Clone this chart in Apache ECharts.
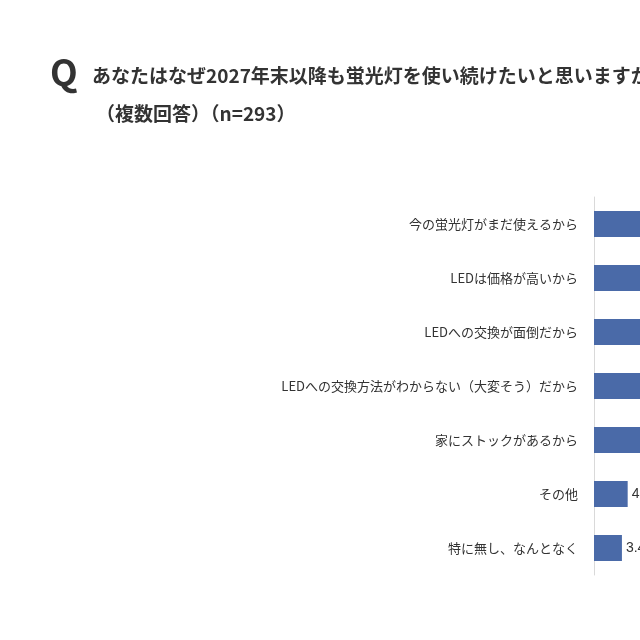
<!DOCTYPE html>
<html>
<head>
<meta charset="utf-8">
<script src="https://cdn.jsdelivr.net/npm/echarts@6/dist/echarts.min.js"></script>
<style>
html, body { margin: 0; padding: 0; background: #fff; overflow: hidden; }
#main { width: 640px; height: 640px; }
</style>
</head>
<body>
<div id="main"></div>
<script>
var categories = [
    '今の蛍光灯がまだ使えるから',
    'LEDは価格が高いから',
    'LEDへの交換が面倒だから',
    'LEDへの交換方法がわからない（大変そう）だから',
    '家にストックがあるから',
    'その他',
    '特に無し、なんとなく'
];
// the first five are cut off in the reference; estimated
var values = [55.6, 30.0, 25.3, 14.0, 9.6, 4.1, 3.4];

var chart = echarts.init(document.getElementById('main'));
chart.setOption({
    backgroundColor: '#fff',
    animation: false,
    graphic: [
        { type: 'text', left: 50, top: 54, style: { text: 'Q', font: 'bold 36px "Noto Sans CJK JP"', fill: '#333' } },
        { type: 'text', left: 92, top: 66, style: { text: 'あなたはなぜ2027年末以降も蛍光灯を使い続けたいと思いますか？', font: 'bold 19px "Noto Sans CJK JP"', fill: '#333' } },
        { type: 'text', left: 96, top: 104, style: { text: '（複数回答）（n=293）', font: 'bold 19px "Noto Sans CJK JP"', fill: '#333' } }
    ],
    grid: { left: 594, right: 0, top: 197, bottom: 65 },
    xAxis: { type: 'value', min: 0, max: 5.6, show: false },
    yAxis: {
        type: 'category',
        data: categories,
        inverse: true,
        axisLine: { show: true, lineStyle: { color: '#d9d9d9' } },
        axisTick: { show: false },
        axisLabel: { color: '#333', fontSize: 13, margin: 16, fontFamily: 'Noto Sans CJK JP' }
    },
    series: [{
        type: 'bar',
        data: values,
        barWidth: 26,
        clip: true,
        itemStyle: { color: '#4a6aa8' },
        label: { show: true, position: 'right', formatter: '{c}%', color: '#333', fontSize: 14, distance: 4 }
    }]
});
</script>
</body>
</html>
